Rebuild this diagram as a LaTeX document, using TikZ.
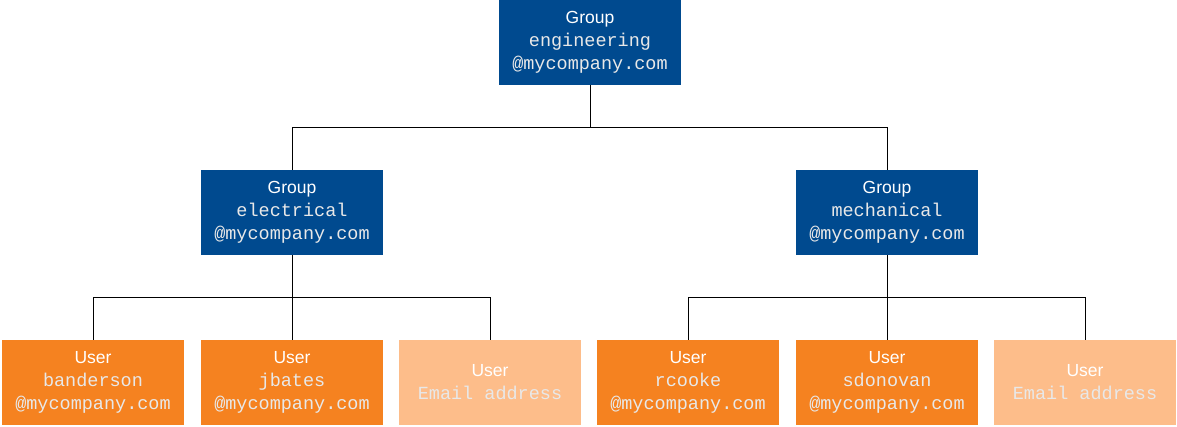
\documentclass[tikz,border=0pt]{standalone}
\usepackage{fontspec}
\setmainfont{Liberation Sans}
\newfontfamily\monof{Liberation Mono}
\definecolor{gblue}{HTML}{004A8F}
\definecolor{uorange}{HTML}{F58220}
\definecolor{lorange}{HTML}{FDBD8A}
\definecolor{mtext}{HTML}{E8E8E8}
\tikzset{
 box/.style={minimum width=182pt,minimum height=85pt,inner sep=0pt,text=white,align=center,font=\fontsize{17.5}{23}\selectfont},
 grp/.style={box,fill=gblue},
 usr/.style={box,fill=uorange},
 usl/.style={box,fill=lorange},
 link/.style={draw=black,line width=0.8pt}
}
\newcommand{\mt}[1]{{\monof\fontsize{18.5}{23}\selectfont\color{mtext}#1}}
\begin{document}
\begin{tikzpicture}[x=1pt,y=-1pt]
\useasboundingbox (0,0) rectangle (1177,426);
\node[grp] (top) at (590,42.5) {Group\\\mt{engineering}\\\mt{@mycompany.com}};
\node[grp] (el) at (292,212.5) {Group\\\mt{electrical}\\\mt{@mycompany.com}};
\node[grp] (me) at (887,212.5) {Group\\\mt{mechanical}\\\mt{@mycompany.com}};
\node[usr] (u1) at (93,382.5) {User\\\mt{banderson}\\\mt{@mycompany.com}};
\node[usr] (u2) at (292,382.5) {User\\\mt{jbates}\\\mt{@mycompany.com}};
\node[usl] (u3) at (490,382.5) {User\\\mt{Email address}};
\node[usr] (u4) at (688,382.5) {User\\\mt{rcooke}\\\mt{@mycompany.com}};
\node[usr] (u5) at (887,382.5) {User\\\mt{sdonovan}\\\mt{@mycompany.com}};
\node[usl] (u6) at (1085,382.5) {User\\\mt{Email address}};
\coordinate (h1) at (590,127);
\coordinate (h2) at (292,297);
\coordinate (h3) at (887,297);
\draw[link] (top.south) -- (h1);
\draw[link] (h1) -| (el.north);
\draw[link] (h1) -| (me.north);
\draw[link] (el.south) -- (u2.north);
\draw[link] (h2) -| (u1.north);
\draw[link] (h2) -| (u3.north);
\draw[link] (me.south) -- (u5.north);
\draw[link] (h3) -| (u4.north);
\draw[link] (h3) -| (u6.north);
\end{tikzpicture}
\end{document}
